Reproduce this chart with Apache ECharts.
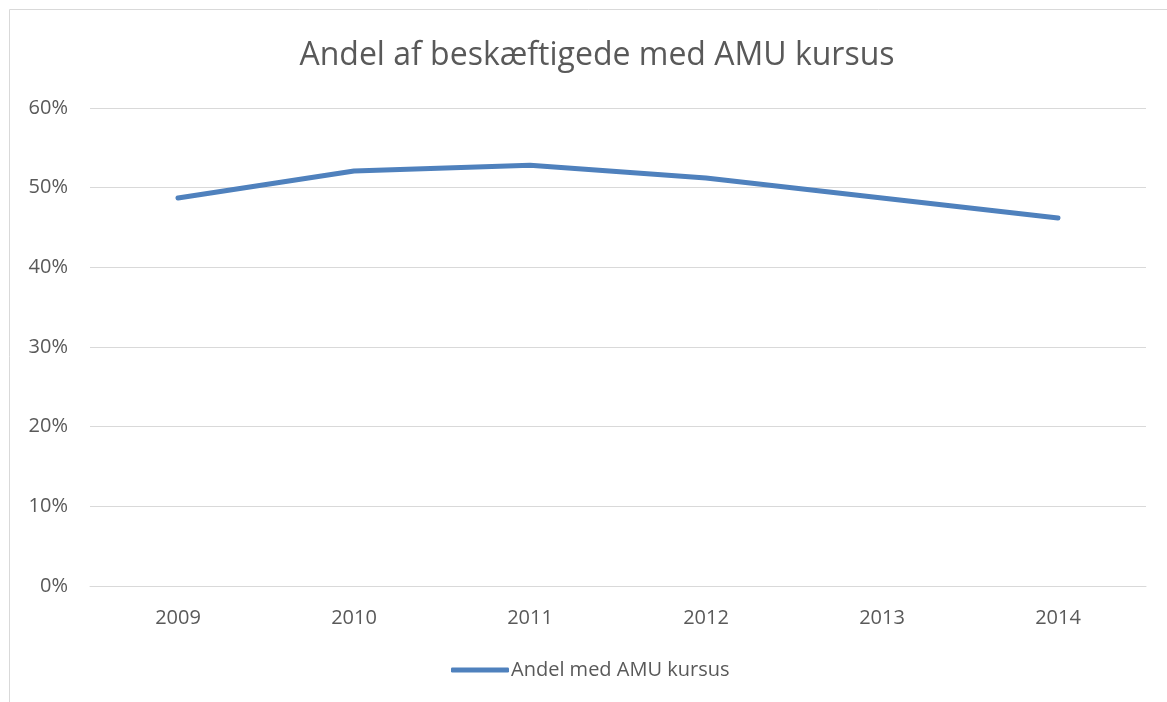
<!DOCTYPE html>
<html>
<head>
<meta charset="utf-8">
<script src="https://cdn.jsdelivr.net/npm/echarts@6/dist/echarts.min.js"></script>
<style>
  html, body { margin: 0; padding: 0; background: #fff; }
  #chart { width: 1167px; height: 702px; }
</style>
</head>
<body>
<div id="chart"></div>
<script>
var years = ['2009', '2010', '2011', '2012', '2013', '2014'];
var andel = [48.7, 52.1, 52.8, 51.2, 48.7, 46.2];
var yTicks = [0, 10, 20, 30, 40, 50, 60];

var myChart = echarts.init(document.getElementById('chart'));
myChart.setOption({
    textStyle: { fontFamily: 'Open Sans' },
    // ramme om diagrammet
    graphic: [{
        type: 'rect',
        shape: { x: 9.5, y: 9.5, width: 1300, height: 900 },
        style: { fill: 'none', stroke: '#d9d9d9', lineWidth: 1 },
        silent: true
    }],
    title: {
        text: 'Andel af beskæftigede med AMU kursus',
        left: 592,
        textAlign: 'center',
        top: 35,
        textStyle: {
            color: '#595959',
            fontSize: 32,
            fontWeight: 'normal',
            fontFamily: 'Open Sans'
        }
    },
    grid: {
        left: 90,
        right: 21,
        top: 108,
        bottom: 116,
        containLabel: false
    },
    legend: {
        bottom: 17,
        left: 446,
        itemWidth: 58,
        itemHeight: 5,
        icon: 'roundRect',
        textStyle: { color: '#595959', fontSize: 20, padding: [0, 0, 0, -3] },
        data: ['Andel med AMU kursus']
    },
    xAxis: {
        type: 'category',
        boundaryGap: true,
        data: years,
        axisTick: { show: false },
        axisLine: { lineStyle: { color: '#d9d9d9', width: 1 } },
        axisLabel: { color: '#595959', fontSize: 20, margin: 22 }
    },
    yAxis: {
        type: 'value',
        min: yTicks[0],
        max: yTicks[yTicks.length - 1],
        interval: 10,
        axisLine: { show: false },
        axisTick: { show: false },
        splitLine: { lineStyle: { color: '#d9d9d9', width: 1 } },
        axisLabel: {
            color: '#595959',
            fontSize: 20,
            margin: 22,
            formatter: function (val) { return val + '%'; }
        }
    },
    series: [{
        name: 'Andel med AMU kursus',
        type: 'line',
        data: andel,
        symbol: 'none',
        smooth: false,
        itemStyle: { color: '#4f81bd' },
        lineStyle: { color: '#4f81bd', width: 5, cap: 'round', join: 'round' }
    }]
});
</script>
</body>
</html>
